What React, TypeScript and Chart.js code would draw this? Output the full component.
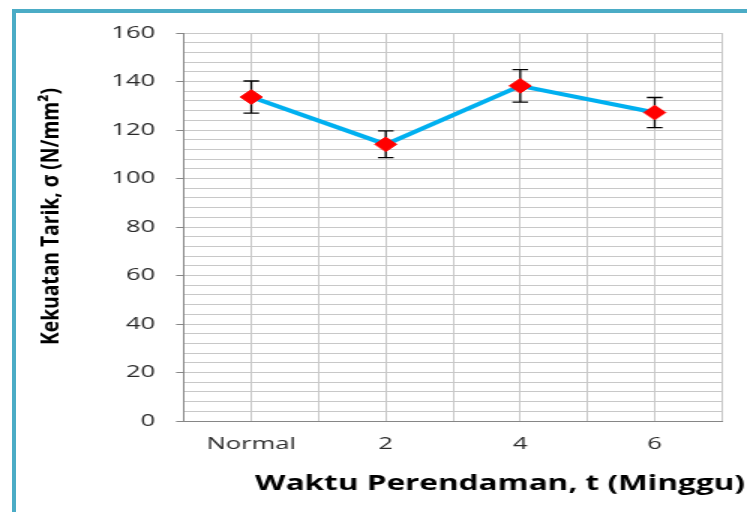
import React, { useEffect, useRef } from 'react';
import { Chart, registerables } from 'chart.js';

Chart.register(...registerables);

// ---- data ----
const categories = ['Normal', '2', '4', '6'];
const tensileMean = [133.6, 114.1, 138.2, 127.2];
const tensileSd = [6.6, 5.5, 6.7, 6.2];
const yMajorTicks = [0, 20, 40, 60, 80, 100, 120, 140, 160];
const xAxisTitle = 'Waktu Perendaman, t (Minggu)';
const yAxisTitle = 'Kekuatan Tarik, σ (N/mm²)';

// ---- layout (the picture is horizontally stretched) ----
const STRETCH = 1.5;
const W = 747;
const H = 512;
const BW = Math.round(W / STRETCH); // bitmap width

const errorBarPlugin = {
  id: 'errorBars',
  beforeDatasetsDraw(chart: any) {
    const { ctx, scales } = chart;
    const x = scales.x;
    const y = scales.y;
    ctx.save();
    ctx.strokeStyle = '#000000';
    ctx.lineWidth = 1.3;
    const cap = 5.2;
    tensileMean.forEach((m, i) => {
      const px = x.getPixelForValue(i);
      const top = y.getPixelForValue(m + tensileSd[i]);
      const bot = y.getPixelForValue(m - tensileSd[i]);
      ctx.beginPath();
      ctx.moveTo(px, top);
      ctx.lineTo(px, bot);
      ctx.moveTo(px - cap, top);
      ctx.lineTo(px + cap, top);
      ctx.moveTo(px - cap, bot);
      ctx.lineTo(px + cap, bot);
      ctx.stroke();
    });
    ctx.restore();
  },
};

const titlePlugin = {
  id: 'axisTitles',
  afterDraw(chart: any) {
    const { ctx, chartArea } = chart;
    ctx.save();
    ctx.fillStyle = '#000000';
    // x title
    ctx.font = 'bold 21px "Open Sans"';
    ctx.textAlign = 'right';
    ctx.textBaseline = 'alphabetic';
    ctx.fillText(xAxisTitle, chartArea.right + 15.4, chartArea.bottom + 69);
    // y title (rotated, drawn un-stretched)
    ctx.font = 'bold 24px "Open Sans"';
    const cy = (chartArea.top + chartArea.bottom) / 2 - 10.5;
    ctx.translate(38.5, cy);
    ctx.rotate(-Math.PI / 2);
    const w = ctx.measureText(yAxisTitle).width;
    const along = 257 / w;
    ctx.scale(along, 1 / STRETCH);
    ctx.textAlign = 'center';
    ctx.fillText(yAxisTitle, 0, 0);
    ctx.restore();
  },
};

function TensileChart() {
  const ref = useRef<HTMLCanvasElement | null>(null);
  useEffect(() => {
    const canvas = ref.current;
    if (!canvas) return;
    const tickFont = { family: '"Open Sans"', size: 17 };
    const chart = new Chart(canvas, {
      type: 'line',
      data: {
        datasets: [
          {
            data: categories.map((_, i) => ({ x: i, y: tensileMean[i] })),
            borderColor: '#00b0f0',
            borderWidth: 4,
            tension: 0,
            pointStyle: 'rectRot',
            pointRadius: 7.3,
            pointBackgroundColor: '#ff0000',
            pointBorderColor: '#ff0000',
            pointBorderWidth: 1,
          },
        ],
      },
      options: {
        responsive: false,
        animation: false,
        devicePixelRatio: 1,
        layout: { padding: { left: 0, right: BW - 481.3, top: 33, bottom: 0 } },
        plugins: { legend: { display: false }, tooltip: { enabled: false } },
        scales: {
          x: {
            type: 'linear',
            min: -0.5,
            max: 3.5,
            afterFit: (s: any) => {
              s.height = 91;
            },
            ticks: {
              stepSize: 0.5,
              maxTicksLimit: 100,
              autoSkip: false,
              maxRotation: 0,
              minRotation: 0,
              padding: 13,
              color: '#2a2a2a',
              font: tickFont,
              callback: (v: any) => (Number.isInteger(v) ? categories[v] : ''),
            },
            grid: { color: '#c8c8c8', lineWidth: 1, drawTicks: false },
            border: { color: '#868686', width: 1 },
          },
          y: {
            min: 0,
            max: 160,
            afterFit: (s: any) => {
              s.width = 122.7;
            },
            ticks: {
              stepSize: 4,
              maxTicksLimit: 100,
              autoSkip: false,
              padding: 14,
              color: '#2a2a2a',
              font: tickFont,
              callback: (v: any) => (yMajorTicks.includes(v) ? String(v) : ''),
            },
            grid: {
              color: '#c8c8c8',
              lineWidth: 1,
              tickLength: 5.3,
              tickColor: (c: any) =>
                c.tick && yMajorTicks.includes(c.tick.value) ? '#868686' : 'rgba(0,0,0,0)',
            },
            border: { color: '#868686', width: 1 },
          },
        },
      },
      plugins: [errorBarPlugin, titlePlugin],
    } as any);
    return () => chart.destroy();
  }, []);
  return (
    <canvas
      ref={ref}
      width={BW}
      height={H}
      style={{ width: W + 'px', height: H + 'px', display: 'block' }}
    />
  );
}

export default function App() {
  return (
    <div
      style={{
        position: 'absolute',
        left: 0,
        top: 0,
        width: W,
        height: H,
        overflow: 'hidden',
        background: '#ffffff',
      }}
    >
      <TensileChart />
      <div
        style={{
          position: 'absolute',
          left: 12,
          top: 9,
          width: W,
          height: H,
          borderLeft: '4px solid #4bacc6',
          borderTop: '4px solid #4bacc6',
          pointerEvents: 'none',
        }}
      />
    </div>
  );
}
